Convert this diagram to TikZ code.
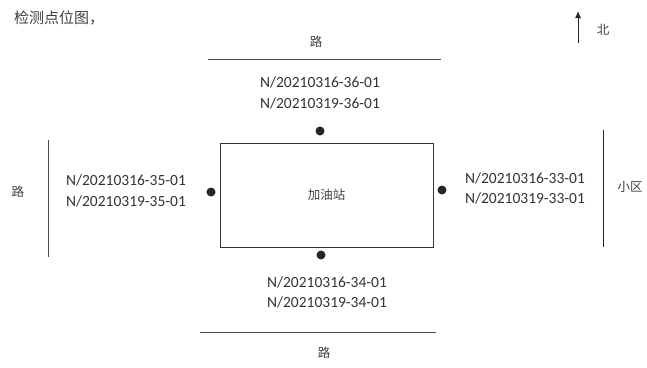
\documentclass[tikz,border=0pt]{standalone}
\usepackage{fontspec}
\setmainfont{Carlito}
\newfontfamily\cjk{Noto Sans CJK SC}
\usetikzlibrary{arrows.meta}
\begin{document}
\begin{tikzpicture}[x=1pt,y=-1pt,
  spot/.style={circle,fill=black!85,inner sep=0pt,minimum size=9pt},
  lab/.style={font=\fontsize{15.5}{17}\selectfont,text=black!80,inner sep=0pt},
  zh/.style={font=\cjk\fontsize{12.5}{14}\selectfont,text=black!75,inner sep=0pt},
  road/.style={draw=black!70,line width=1pt}]
  \useasboundingbox (0,0) rectangle (647,367);
  \node[zh,anchor=west,font=\cjk\fontsize{15}{17}\selectfont] (title) at (14,18) {检测点位图，};
  % north arrow
  \coordinate (nS) at (578,43);
  \coordinate (nN) at (578,11);
  \draw[-{Latex[length=7pt,width=6pt]},black!85,line width=1pt] (nS) -- (nN);
  \node[zh] (north) at (603,30) {北};
  % station and sampling points
  \node[draw=black!80,line width=1pt,minimum width=213pt,minimum height=104pt,
    zh] (station) at (326.5,195) {加油站};
  \node[spot] (p36) at (320,131) {};
  \node[spot] (p35) at (211,192) {};
  \node[spot] (p33) at (442,190) {};
  \node[spot] (p34) at (321,255) {};
  \node[lab] (l36a) at (320,82) {N/20210316-36-01};
  \node[lab] (l36b) at (320,103) {N/20210319-36-01};
  \node[lab] (l35a) at (126,180) {N/20210316-35-01};
  \node[lab] (l35b) at (126,201) {N/20210319-35-01};
  \node[lab] (l33a) at (525,178) {N/20210316-33-01};
  \node[lab] (l33b) at (525,198) {N/20210319-33-01};
  \node[lab] (l34a) at (327,282) {N/20210316-34-01};
  \node[lab] (l34b) at (327,302) {N/20210319-34-01};
  % roads
  \draw[road] (208,59) -- (441,59);
  \draw[road] (200,332) -- (436,332);
  \draw[road] (48,140) -- (48,257);
  \draw[road,black!85] (603,130) -- (603,247);
  \node[zh] (roadN) at (316,42) {路};
  \node[zh] (roadS) at (324,353) {路};
  \node[zh] (roadW) at (18,192) {路};
  \node[zh] (estate) at (630,187) {小区};
\end{tikzpicture}
\end{document}
